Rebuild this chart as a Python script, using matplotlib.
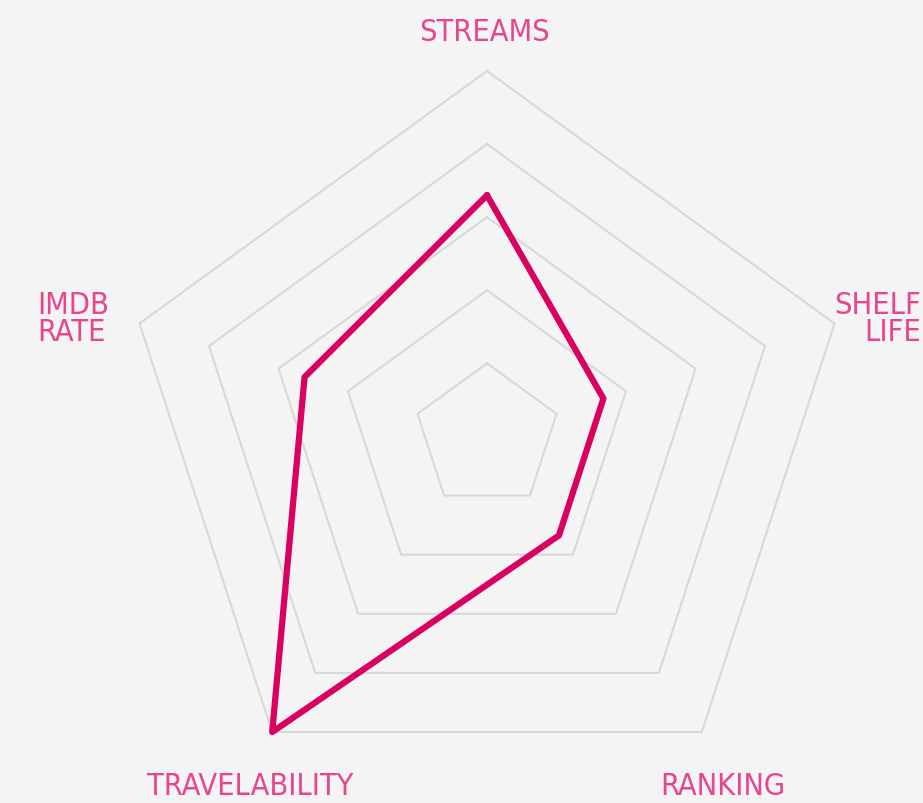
import numpy as np
import matplotlib
matplotlib.use("Agg")
import matplotlib.pyplot as plt
from matplotlib import font_manager

# chart data (0-10 scale)
categories = ["STREAMS", "SHELF\nLIFE", "RANKING", "TRAVELABILITY", "IMDB\nRATE"]
values = [6.6, 3.35, 3.35, 10.0, 5.25]
max_value = 10.0
levels = [2, 4, 6, 8, 10]

bg = "#f4f4f4"
line_color = "#d9005f"
label_color = "#e8458f"
grid_color = "#d8d8d8"

# pick a narrow face if one is installed
names = {f.name for f in font_manager.fontManager.ttflist}
narrow = [f for f in ["Liberation Sans Narrow", "DejaVu Sans Condensed"] if f in names]

W, H = 923, 804
fig = plt.figure(figsize=(W / 100, H / 100), dpi=100, facecolor=bg)
ax = fig.add_axes([0, 0, 1, 1])
ax.set_facecolor(bg)

# centre at pixel (487, 437.4), outer radius 365.4 px
cx, cy, R = 487.0, 437.4, 365.4
ax.set_xlim(-cx / R, (W - cx) / R)
ax.set_ylim(-(H - cy) / R, cy / R)
ax.axis("off")

n = len(categories)
angles = np.pi / 2 - np.arange(n) * 2 * np.pi / n

# pentagon grid
for lv in levels:
    r = lv / max_value
    xs = np.append(r * np.cos(angles), r * np.cos(angles[0]))
    ys = np.append(r * np.sin(angles), r * np.sin(angles[0]))
    ax.plot(xs, ys, color=grid_color, lw=1.5, zorder=1)

# data polygon
r = np.array(values) / max_value
xs = np.append(r * np.cos(angles), r[0] * np.cos(angles[0]))
ys = np.append(r * np.sin(angles), r[0] * np.sin(angles[0]))
ax.plot(xs, ys, color=line_color, lw=4.5, solid_joinstyle="round",
        solid_capstyle="round", zorder=3)

# labels (pixel positions converted to data units)
def px(x, y):
    return (x - cx) / R, (cy - y) / R

font = dict(family=narrow + ["DejaVu Sans"], fontstretch="condensed", fontsize=22,
            color=label_color, linespacing=0.92)
ax.text(*px(484, 32), categories[0], ha="center", va="center", **font)
ax.text(*px(921, 319), categories[1], ha="right", va="center", multialignment="right", **font)
ax.text(*px(723, 787), categories[2], ha="center", va="center", **font)
ax.text(*px(250, 787), categories[3], ha="center", va="center", **font)
ax.text(*px(37, 319), categories[4], ha="left", va="center", multialignment="left", **font)

fig.savefig("out.png", dpi=100, facecolor=bg)
